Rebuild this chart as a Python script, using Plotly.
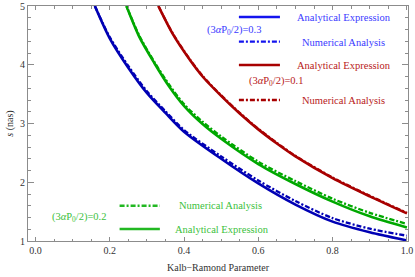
import plotly.graph_objects as go

# ---- data ----
x_blue = [0.16, 0.2, 0.25, 0.3, 0.35, 0.4, 0.5, 0.6, 0.7, 0.8, 0.9, 1.0]
s_blue_analytical = [5.0, 4.45, 3.95, 3.52, 3.18, 2.86, 2.40, 1.98, 1.62, 1.33, 1.15, 1.01]
s_blue_numerical = [5.0, 4.47, 3.98, 3.55, 3.21, 2.89, 2.44, 2.03, 1.68, 1.39, 1.21, 1.09]

x_green = [0.245, 0.28, 0.32, 0.36, 0.4, 0.45, 0.5, 0.6, 0.7, 0.8, 0.9, 1.0]
s_green_analytical = [5.0, 4.47, 4.03, 3.63, 3.30, 2.99, 2.74, 2.31, 1.97, 1.67, 1.42, 1.23]
s_green_numerical = [5.0, 4.49, 4.05, 3.66, 3.33, 3.03, 2.78, 2.35, 2.02, 1.72, 1.48, 1.29]

x_red = [0.331, 0.37, 0.416, 0.45, 0.5, 0.55, 0.6, 0.65, 0.7, 0.8, 0.9, 1.0]
s_red_analytical = [5.0, 4.52, 4.08, 3.80, 3.47, 3.17, 2.90, 2.66, 2.44, 2.07, 1.76, 1.47]
s_red_numerical = [5.0, 4.53, 4.09, 3.81, 3.48, 3.18, 2.91, 2.67, 2.45, 2.08, 1.77, 1.48]

x_ticks = [0.0, 0.2, 0.4, 0.6, 0.8, 1.0]
x_tick_labels = ["0.0", "0.2", "0.4", "0.6", "0.8", "1.0"]
y_ticks = [1, 2, 3, 4, 5]
y_tick_labels = ["1", "2", "3", "4", "5"]

# ---- styles ----
BLUE = "#0000b4"
GREEN = "#00a800"
RED = "#a80000"
BLUE_T = "#3a3aff"
GREEN_T = "#3cbf3c"
RED_T = "#b82020"
DASH = "5px,2px,2px,2px"
FONT = "Liberation Serif, Times New Roman, serif"

fig = go.Figure()

series = [
    (x_blue, s_blue_analytical, BLUE, "solid", 2.6),
    (x_blue, s_blue_numerical, BLUE, DASH, 2.3),
    (x_green, s_green_analytical, GREEN, "solid", 2.6),
    (x_green, s_green_numerical, GREEN, DASH, 2.3),
    (x_red, s_red_analytical, RED, "solid", 2.6),
    (x_red, s_red_numerical, RED, DASH, 2.3),
]
for xs, ys, col, dash, w in series:
    fig.add_trace(go.Scatter(
        x=xs, y=ys, mode="lines",
        line=dict(color=col, width=w, dash=dash, shape="spline", smoothing=0.8),
        showlegend=False, hoverinfo="skip",
    ))

# ---- custom legend (paper coordinates) ----
legend_lines = [
    (0.555, 0.663, 0.953, "#1414ee", "solid", 2.6),
    (0.555, 0.663, 0.848, "#1414ee", DASH, 2.3),
    (0.555, 0.663, 0.749, RED, "solid", 2.6),
    (0.555, 0.663, 0.600, RED, DASH, 2.3),
    (0.241, 0.347, 0.150, "#22b822", DASH, 2.3),
    (0.241, 0.347, 0.051, "#22b822", "solid", 2.6),
]
for x0, x1, y, col, dash, w in legend_lines:
    fig.add_shape(type="line", xref="paper", yref="paper", x0=x0, x1=x1, y0=y, y1=y,
                  line=dict(color=col, width=w, dash=dash))

texts = [
    (0.831, 0.949, "Analytical Expression", BLUE_T),
    (0.831, 0.843, "Numerical Analysis", BLUE_T),
    (0.544, 0.894, "(3<i>α</i>P<sub>0</sub>/2)=0.3", BLUE_T),
    (0.831, 0.745, "Analytical Expression", RED_T),
    (0.655, 0.677, "(3<i>α</i>P<sub>0</sub>/2)=0.1", RED_T),
    (0.831, 0.596, "Numerical Analysis", RED_T),
    (0.136, 0.098, "(3<i>α</i>P<sub>0</sub>/2)=0.2", GREEN_T),
    (0.507, 0.149, "Numerical Analysis", GREEN_T),
    (0.510, 0.051, "Analytical Expression", GREEN_T),
]
for x, y, t, col in texts:
    fig.add_annotation(x=x, y=y, xref="paper", yref="paper", text=t, showarrow=False,
                       xanchor="center", yanchor="middle",
                       font=dict(family=FONT, size=10.5, color=col))

axis_common = dict(
    showgrid=False, zeroline=False, showline=True, linecolor="#8c8c8c", linewidth=1,
    mirror="ticks", ticks="inside", tickcolor="#8c8c8c", tickwidth=1, automargin=False,
    tickfont=dict(family=FONT, size=10, color="#333333"),
)
fig.update_xaxes(
    range=[-0.02, 1.003], tickvals=x_ticks, ticktext=x_tick_labels, ticklen=4,
    minor=dict(ticks="inside", dtick=0.05, tick0=0, ticklen=2.5, tickcolor="#8c8c8c"),
    title=dict(text="Kalb\u2212Ramond Parameter", font=dict(family=FONT, size=10, color="#333333"),
               standoff=8),
    **axis_common,
)
fig.update_yaxes(
    range=[1, 5], tickvals=y_ticks, ticktext=y_tick_labels, ticklen=6,
    minor=dict(ticks="inside", dtick=0.2, tick0=1, ticklen=3, tickcolor="#8c8c8c"),
    title=dict(text="<i>s</i> (nas)", font=dict(family=FONT, size=10, color="#333333"),
               standoff=4),
    **axis_common,
)

fig.update_layout(
    width=415, height=277,
    margin=dict(l=28, r=7, t=6, b=36, autoexpand=False),
    paper_bgcolor="white", plot_bgcolor="white",
    showlegend=False,
)

fig.write_html("out.html", config={"displayModeBar": False},
               post_script="document.body.style.margin='0';document.body.style.overflow='hidden';")
